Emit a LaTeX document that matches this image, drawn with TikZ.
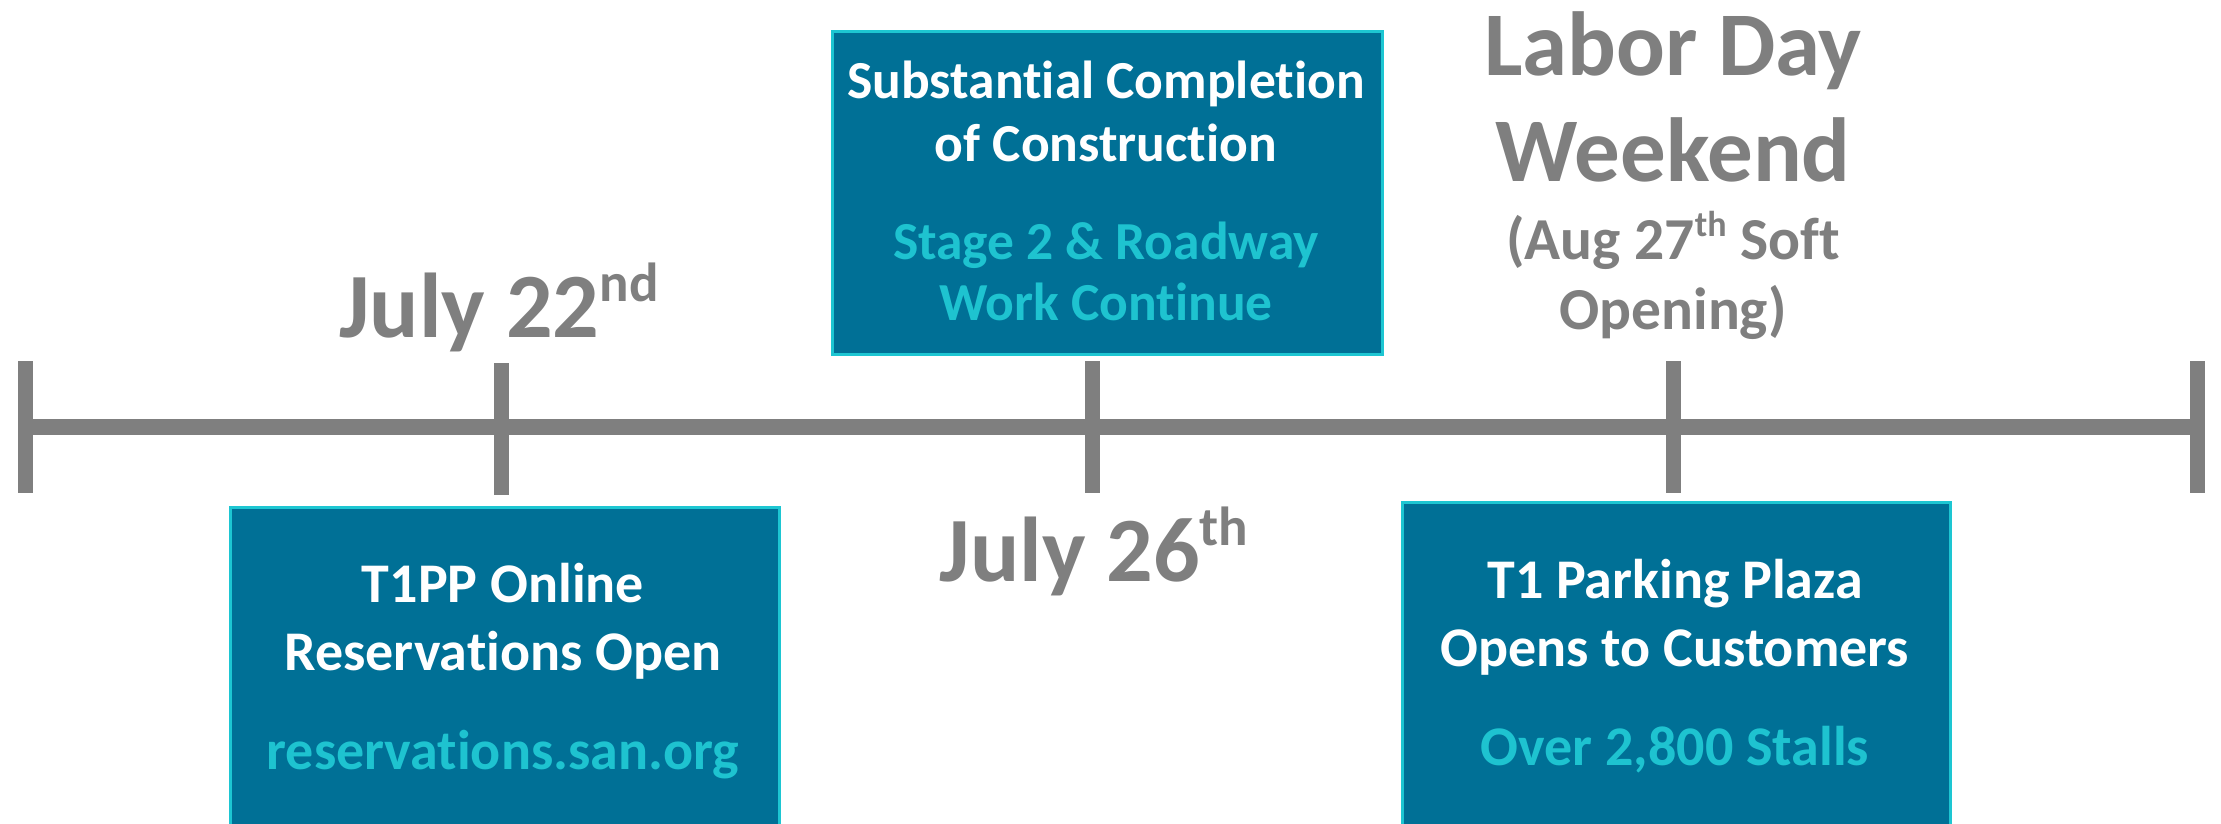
\documentclass[tikz,border=0pt]{standalone}
\usepackage{fontspec}
\setmainfont{Carlito}[Ligatures={NoCommon}]
\definecolor{boxfill}{HTML}{007096}
\definecolor{boxline}{HTML}{1DC6D2}
\definecolor{lighttext}{HTML}{1EC3D0}
\definecolor{graytext}{HTML}{7F7F7F}
\begin{document}
\begin{tikzpicture}[x=1pt,y=-1pt]
\useasboundingbox (0,0) rectangle (2221,824);
\clip (0,0) rectangle (2221,824);
\tikzset{
  evbox/.style={draw=boxline, line width=3pt, fill=boxfill, inner sep=0pt, anchor=north west},
  tickmark/.style={fill=graytext, minimum width=15pt, minimum height=132pt, inner sep=0pt},
  wtext/.style={text=white, font=\fontsize{56}{60}\selectfont\bfseries, anchor=base, inner sep=0pt},
  ctext/.style={text=lighttext, font=\fontsize{56}{60}\selectfont\bfseries, anchor=base, inner sep=0pt},
  wtexts/.style={wtext, font=\fontsize{53.5}{58}\selectfont\bfseries},
  ctexts/.style={ctext, font=\fontsize{53.5}{58}\selectfont\bfseries},
  datebig/.style={text=graytext, font=\fontsize{92}{96}\selectfont\bfseries, anchor=base, inner sep=0pt},
  datehuge/.style={datebig, font=\fontsize{91}{96}\selectfont\bfseries},
  datesmall/.style={text=graytext, font=\fontsize{59.5}{62}\selectfont\bfseries, anchor=base, inner sep=0pt}
}
% ticks
\node[tickmark] (t0) at (25,427) {};
\node[tickmark] (t1) at (501,429) {};
\node[tickmark] (t2) at (1092,427) {};
\node[tickmark] (t3) at (1673,427) {};
\node[tickmark] (t4) at (2197,427) {};
\draw[graytext, line width=16pt] (t0.center) -- (t4.center);
% boxes
\node[evbox, minimum width=549pt, minimum height=330pt] (b1) at (229,506) {};
\node[evbox, minimum width=550pt, minimum height=323pt] (b2) at (831,30) {};
\node[evbox, minimum width=548pt, minimum height=330pt] (b3) at (1401,501) {};
% box 1 text
\node[wtext] (b1l1) at (503,602) {T1PP Online};
\node[wtext] (b1l2) at (503,670) {Reservations Open};
\node[ctext] (b1l3) at (503,769) {reservations.san.org};
% box 2 text
\node[wtexts] (b2l1) at (1106,99) {Substantial Completion};
\node[wtexts] (b2l2) at (1106,161) {of Construction};
\node[ctexts] (b2l3) at (1106,259) {Stage 2 \& Roadway};
\node[ctexts] (b2l4) at (1106,320) {Work Continue};
% box 3 text
\node[wtext] (b3l1) at (1675,598) {T1 Parking Plaza};
\node[wtext] (b3l2) at (1675,666) {Opens to Customers};
\node[ctext] (b3l3) at (1675,765) {Over 2,800 Stalls};
% dates
\node[datebig] (d1) at (499,337) {July 22\raisebox{36pt}{\fontsize{55}{55}\selectfont nd}};
\node[datebig] (d2) at (1094,581) {July 26\raisebox{36pt}{\fontsize{55}{55}\selectfont th}};
\node[datehuge] (d3a) at (1673,76) {Labor Day};
\node[datehuge] (d3b) at (1673,181) {Weekend};
\node[datesmall] (d3c) at (1673,259) {(Aug 27\raisebox{23pt}{\fontsize{36}{36}\selectfont th} Soft};
\node[datesmall] (d3d) at (1673,329) {Opening)};
\end{tikzpicture}
\end{document}
